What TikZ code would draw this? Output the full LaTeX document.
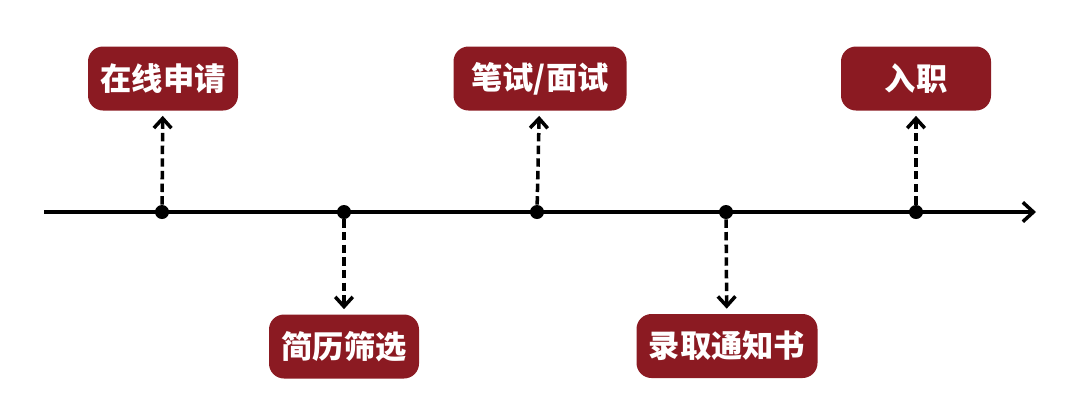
\documentclass[tikz,border=0pt]{standalone}
\usepackage{fontspec}
\newfontfamily\cjk{Noto Sans CJK SC}
\usetikzlibrary{arrows.meta,positioning,calc}
\definecolor{StageRed}{HTML}{8B1A22}
\tikzset{stage/.style={fill=StageRed,rounded corners=15*0.02cm,text=white,align=center,minimum height=64*0.02cm,minimum width=150*0.02cm,inner xsep=12*0.02cm,font=\cjk\bfseries\fontsize{17.8}{20}\selectfont},dot/.style={circle,fill=black,inner sep=0pt,minimum size=14*0.02cm},link/.style={-{Straight Barb[length=5.5pt,width=10pt,line width=2pt]},line width=2pt,dash pattern=on 4.8pt off 2.4pt,shorten >=5*0.02cm}}

\begin{document}
\begin{tikzpicture}[x=0.02cm,y=-0.02cm]
\useasboundingbox (0,0) rectangle (1080,417);
\node[dot] (d1) at (162,212) {}; \node[dot] (d2) at (344,212) {}; \node[dot] (d3) at (537,212) {};
\node[dot] (d4) at (726,212) {}; \node[dot] (d5) at (916,212) {};
\coordinate (tstart) at (44,212); \coordinate (tend) at (1036,212);
\draw[line width=2pt,-{Straight Barb[length=6pt,width=11pt,line width=2pt]}] (tstart)--(tend);
\node[stage] (apply) at (163,78.5) {在线申请};
\node[stage] (screen) at (344,346.5) {简历筛选};
\node[stage,minimum width=173*0.02cm] (exam) at (540,78.5) {笔试/面试};
\node[stage,minimum width=181*0.02cm] (offer) at (727,346) {录取通知书};
\node[stage] (onboard) at (916,78.5) {入职};
\draw[link] (d1)--(apply); \draw[link] (d2)--(screen); \draw[link] (d3)--(exam);
\draw[link] (d4)--(offer); \draw[link] (d5)--(onboard);
\end{tikzpicture}
\end{document}
